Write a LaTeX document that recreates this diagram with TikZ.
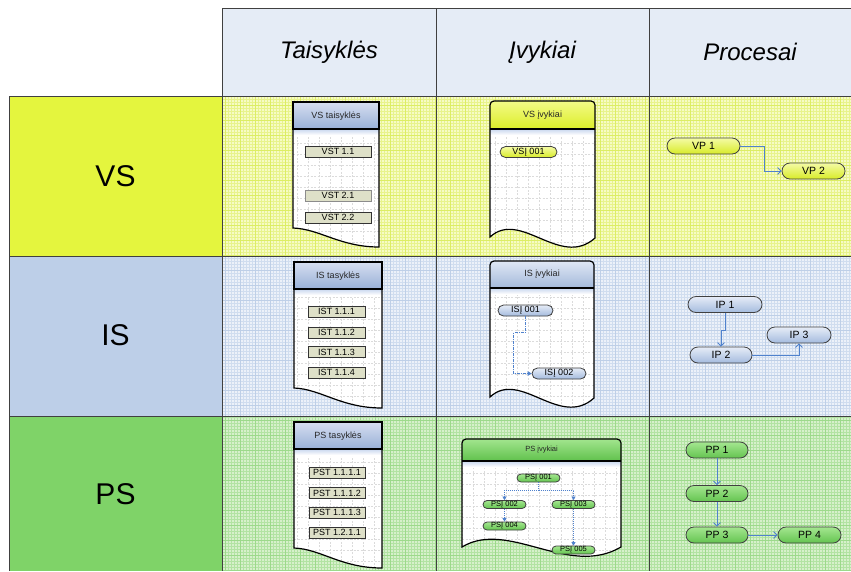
\documentclass[tikz,border=0pt]{standalone}
\usepackage{fontspec}
\setmainfont{Liberation Sans}
\usetikzlibrary{arrows.meta,calc}

% table colours
\definecolor{headfill}{RGB}{229,236,246}
\definecolor{vsrow}{RGB}{228,245,62}
\definecolor{isrow}{RGB}{189,207,232}
\definecolor{psrow}{RGB}{127,211,104}
\definecolor{vscell}{RGB}{246,251,196}
\definecolor{vsminor}{RGB}{232,243,140}
\definecolor{vsmajor}{RGB}{220,237,100}
\definecolor{iscell}{RGB}{236,241,249}
\definecolor{isminor}{RGB}{208,221,239}
\definecolor{ismajor}{RGB}{190,207,231}
\definecolor{pscell}{RGB}{214,240,203}
\definecolor{psminor}{RGB}{178,227,163}
\definecolor{psmajor}{RGB}{156,217,139}
% sheet and shape colours
\definecolor{sheetshadow}{RGB}{200,214,238}
\definecolor{ruletop}{RGB}{214,222,240}
\definecolor{rulebot}{RGB}{152,176,215}
\definecolor{vsheadtop}{RGB}{243,250,135}
\definecolor{vsheadbot}{RGB}{220,238,40}
\definecolor{isheadtop}{RGB}{224,231,245}
\definecolor{isheadbot}{RGB}{163,185,218}
\definecolor{psheadtop}{RGB}{162,229,142}
\definecolor{psheadbot}{RGB}{96,193,76}
\definecolor{vspilltop}{RGB}{244,251,165}
\definecolor{vspillbot}{RGB}{216,235,40}
\definecolor{ispilltop}{RGB}{230,236,247}
\definecolor{ispillbot}{RGB}{164,187,222}
\definecolor{pspilltop}{RGB}{164,230,144}
\definecolor{pspillbot}{RGB}{100,196,80}
\definecolor{rulefill}{RGB}{222,224,200}
\definecolor{connblue}{RGB}{80,130,205}

\tikzset{
  tableline/.style={draw=black!75, line width=0.9pt},
  sheetline/.style={draw=black, line width=1.2pt},
  sheetgrid/.style={draw=black!14, line width=0.4pt, dash pattern=on 2pt off 1.5pt, step=11pt},
  rulehead/.style={top color=ruletop, bottom color=rulebot, draw=black, line width=1.2pt},
  vshead/.style={top color=vsheadtop, bottom color=vsheadbot, draw=black, line width=1.2pt},
  ishead/.style={top color=isheadtop, bottom color=isheadbot, draw=black, line width=1.2pt},
  pshead/.style={top color=psheadtop, bottom color=psheadbot, draw=black, line width=1.2pt},
  coltitle/.style={font=\fontsize{24}{28}\selectfont\itshape},
  rowtitle/.style={font=\fontsize{30}{34}\selectfont},
  sheettitle/.style={font=\fontsize{9}{10}\selectfont, text=black!85},
  rulebox/.style={draw=black!80, line width=0.9pt, fill=rulefill, inner sep=0pt,
    minimum height=11pt, font=\fontsize{9}{10}\selectfont},
  pill/.style={draw=black!75, line width=0.8pt, inner sep=0pt, text=black},
  vspill/.style={pill, top color=vspilltop, bottom color=vspillbot},
  ispill/.style={pill, top color=ispilltop, bottom color=ispillbot},
  pspill/.style={pill, top color=pspilltop, bottom color=pspillbot},
  procpill/.style={minimum height=16pt, rounded corners=8pt, font=\fontsize{10.5}{12}\selectfont},
  evpill/.style={minimum height=11pt, rounded corners=5.5pt, font=\fontsize{9}{10}\selectfont},
  smallevpill/.style={minimum height=8pt, rounded corners=4pt, font=\fontsize{7.5}{8}\selectfont},
  procarrow/.style={draw=connblue, line width=0.8pt, -{Straight Barb[length=3.5pt,width=7pt]}},
  isevarrow/.style={draw=connblue, line width=0.8pt,
    dash pattern=on 3pt off 1pt on 1pt off 1pt, -{Triangle[length=4pt,width=4.5pt]}},
  psevline/.style={draw=connblue, line width=0.7pt, dash pattern=on 1pt off 1pt},
  psevarrow/.style={psevline, -{Triangle[length=3.5pt,width=4pt]}},
}

% A rules sheet: #1 left, #2 right, #3 top, #4 header bottom,
% #5 torn edge at left, #6 torn edge at right, #7 header style
\newcommand\RulesSheet[7]{%
  \fill[white] (#1,#4) -- (#1,#5) .. controls ({#1+27},{#5+1}) and ({#1+47},#6) .. (#2,#6) -- (#2,#4) -- cycle;
  \begin{scope}
    \clip (#1,#4) -- (#1,#5) .. controls ({#1+27},{#5+1}) and ({#1+47},#6) .. (#2,#6) -- (#2,#4) -- cycle;
    \draw[sheetgrid] (#1,#4) grid (#2,#6);
    \shade[top color=sheetshadow, bottom color=white] (#1,#4) rectangle (#2,{#4+6});
  \end{scope}
  \draw[sheetline] (#1,#4) -- (#1,#5) .. controls ({#1+27},{#5+1}) and ({#1+47},#6) .. (#2,#6) -- (#2,#4);
  \path[#7] (#1,#3) rectangle (#2,#4);
}

% An events sheet with a rounded header and a wavy lower edge
\newcommand\EventsSheet[7]{%
  \fill[white] (#1,#4) -- (#1,#5) .. controls ({#1+0.29*(#2-#1)},{#5-28}) and ({#1+0.67*(#2-#1)},{#6+31}) .. (#2,#6) -- (#2,#4) -- cycle;
  \begin{scope}
    \clip (#1,#4) -- (#1,#5) .. controls ({#1+0.29*(#2-#1)},{#5-28}) and ({#1+0.67*(#2-#1)},{#6+31}) .. (#2,#6) -- (#2,#4) -- cycle;
    \draw[sheetgrid] (#1,#4) grid (#2,{#6+20});
    \shade[top color=sheetshadow, bottom color=white] (#1,#4) rectangle (#2,{#4+6});
  \end{scope}
  \draw[sheetline] (#1,#4) -- (#1,#5) .. controls ({#1+0.29*(#2-#1)},{#5-28}) and ({#1+0.67*(#2-#1)},{#6+31}) .. (#2,#6) -- (#2,#4);
  \path[#7, rounded corners=4pt] (#1,#4) -- (#1,#3) -- (#2,#3) -- (#2,#4);
  \draw[sheetline] (#1,#4) -- (#2,#4);
}

\begin{document}
\begin{tikzpicture}[x=1pt, y=-1pt]
\useasboundingbox (0,0) rectangle (851,571);
\fill[white] (0,0) rectangle (851,571);

% ---- table background ----
\fill[headfill] (222,8) rectangle (851,96);
\fill[vsrow] (9,96) rectangle (222,256);
\fill[isrow] (9,256) rectangle (222,416);
\fill[psrow] (9,416) rectangle (222,571);

\fill[vscell] (222,96) rectangle (851,256);
\draw[vsminor, line width=0.35pt, step=3pt] (222,96) grid (851,256);
\draw[vsmajor, line width=0.45pt, step=15pt] (222,96) grid (851,256);
\fill[iscell] (222,256) rectangle (851,416);
\draw[isminor, line width=0.35pt, step=3pt] (222,256) grid (851,416);
\draw[ismajor, line width=0.45pt, step=15pt] (222,256) grid (851,416);
\fill[pscell] (222,416) rectangle (851,571);
\draw[psminor, line width=0.35pt, step=3pt] (222,416) grid (851,571);
\draw[psmajor, line width=0.45pt, step=15pt] (222,416) grid (851,571);

% ---- table rules ----
\draw[tableline] (222,8) -- (851,8);
\draw[tableline] (9,96) -- (851,96);
\draw[tableline] (9,256) -- (851,256);
\draw[tableline] (9,416) -- (851,416);
\draw[tableline] (9,96) -- (9,571);
\draw[tableline] (222,8) -- (222,571);
\draw[tableline] (436,8) -- (436,571);
\draw[tableline] (649,8) -- (649,571);

% ---- headings ----
\node[coltitle] (hrules) at (329,52) {Taisyklės};
\node[coltitle] (hevents) at (542.5,52) {Įvykiai};
\node[coltitle] (hprocs) at (750,52) {Procesai};
\node[rowtitle] (rvs) at (115.5,176) {VS};
\node[rowtitle] (ris) at (115.5,335) {IS};
\node[rowtitle] (rps) at (115.5,494) {PS};

% ---- rule sheets ----
\RulesSheet{293}{379}{102}{129}{228}{247}{rulehead}
\RulesSheet{294}{382}{262}{289}{388}{408}{rulehead}
\RulesSheet{294}{382}{422}{449}{548}{568}{rulehead}
\node[sheettitle] (vsrules) at (336,116.5) {VS taisyklės};
\node[sheettitle] (isrules) at (338,276) {IS tasyklės};
\node[sheettitle] (psrules) at (338,436) {PS tasyklės};

\node[rulebox, minimum width=66pt] (vst11) at (338,151.5) {VST 1.1};
\node[rulebox, minimum width=66pt, draw=black!45] (vst21) at (338,195.5) {VST 2.1};
\node[rulebox, minimum width=66pt] (vst22) at (338,217.5) {VST 2.2};

\node[rulebox, minimum width=57pt] (ist111) at (336.5,311.5) {IST 1.1.1};
\node[rulebox, minimum width=57pt] (ist112) at (336.5,332.5) {IST 1.1.2};
\node[rulebox, minimum width=57pt] (ist113) at (336.5,352) {IST 1.1.3};
\node[rulebox, minimum width=57pt] (ist114) at (336.5,372.5) {IST 1.1.4};

\node[rulebox, minimum width=56pt] (pst1111) at (337,472.5) {PST 1.1.1.1};
\node[rulebox, minimum width=56pt] (pst1112) at (337,493) {PST 1.1.1.2};
\node[rulebox, minimum width=56pt] (pst1113) at (337,512.5) {PST 1.1.1.3};
\node[rulebox, minimum width=56pt] (pst1211) at (337,532.5) {PST 1.2.1.1};

% ---- event sheets ----
\EventsSheet{490}{595}{101}{129}{237}{238}{vshead}
\EventsSheet{490}{594}{261}{288}{397}{398}{ishead}
\EventsSheet{462}{621}{439}{461}{547}{547}{pshead}
\node[sheettitle] (vsevents) at (542.5,115) {VS įvykiai};
\node[sheettitle] (isevents) at (542,274.5) {IS įvykiai};
\node[sheettitle, font=\fontsize{7.5}{8}\selectfont] (psevents) at (541.5,450) {PS įvykiai};

\node[vspill, evpill, minimum width=57pt] (vse1) at (528.5,152) {VSĮ 001};

\node[ispill, evpill, minimum width=55pt] (ise1) at (525.5,310.5) {ISĮ 001};
\node[ispill, evpill, minimum width=54pt] (ise2) at (559,373.5) {ISĮ 002};
\draw[isevarrow] (ise1.south) -- ++(0,16) -| ($(ise2.west)+(-18,0)$) -- (ise2.west);

\node[pspill, smallevpill, minimum width=43pt] (pse1) at (538.5,478) {PSĮ 001};
\node[pspill, smallevpill, minimum width=43pt] (pse2) at (504.5,504.5) {PSĮ 002};
\node[pspill, smallevpill, minimum width=43pt] (pse3) at (573.5,504.5) {PSĮ 003};
\node[pspill, smallevpill, minimum width=43pt] (pse4) at (504.5,526) {PSĮ 004};
\node[pspill, smallevpill, minimum width=43pt] (pse5) at (573.5,550) {PSĮ 005};
\coordinate (psfork) at ($(pse1.south)+(0,8)$);
\draw[psevline] (pse1.south) -- (psfork);
\draw[psevarrow] (psfork) -| (pse2.north);
\draw[psevarrow] (psfork) -| (pse3.north);
\draw[psevarrow] (pse2.south) -- (pse4.north);
\draw[psevarrow] (pse3.south) -- (pse5.north);

% ---- processes ----
\node[vspill, procpill, minimum width=73pt] (vp1) at (703.5,146) {VP 1};
\node[vspill, procpill, minimum width=63pt] (vp2) at (813.5,171) {VP 2};
\draw[procarrow] (vp1.east) -- ++(24,0) |- (vp2.west);

\node[ispill, procpill, minimum width=74pt] (ip1) at (725,304.5) {IP 1};
\node[ispill, procpill, minimum width=62pt] (ip2) at (721,355) {IP 2};
\node[ispill, procpill, minimum width=64pt] (ip3) at (799,335) {IP 3};
\draw[procarrow] (ip1.south) -- ++(0,17) -| (ip2.north);
\draw[procarrow] (ip2.east) -| (ip3.south);

\node[pspill, procpill, minimum width=62pt] (pp1) at (717,450) {PP 1};
\node[pspill, procpill, minimum width=62pt] (pp2) at (717,493.5) {PP 2};
\node[pspill, procpill, minimum width=62pt] (pp3) at (717,535) {PP 3};
\node[pspill, procpill, minimum width=63pt] (pp4) at (809.5,535) {PP 4};
\draw[procarrow] (pp1.south) -- (pp2.north);
\draw[procarrow] (pp2.south) -- (pp3.north);
\draw[procarrow] (pp3.east) -- (pp4.west);
\end{tikzpicture}
\end{document}
